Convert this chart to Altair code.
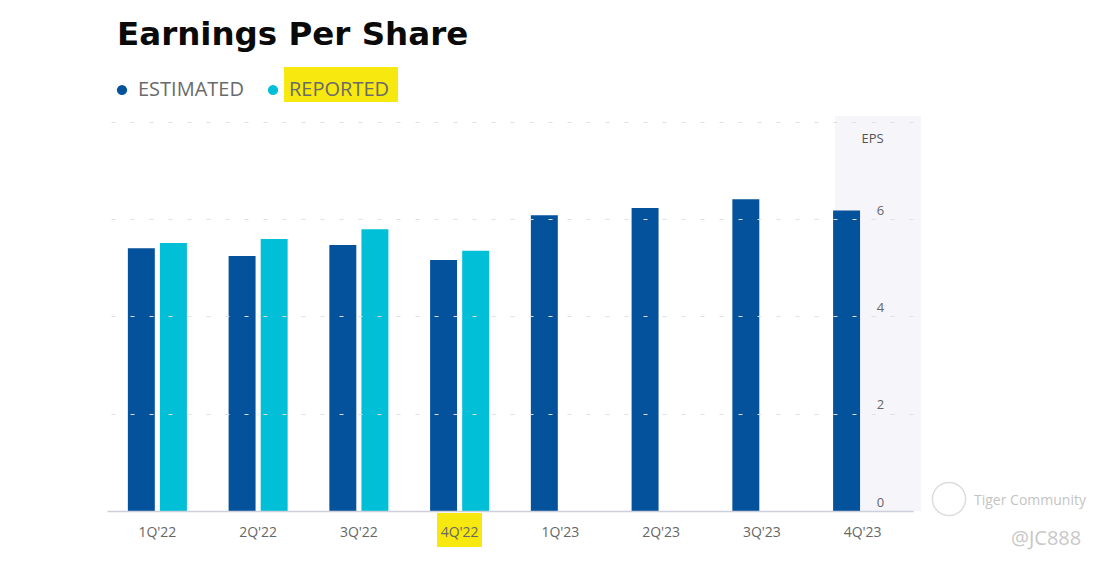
import altair as alt
import pandas as pd

quarters = ["1Q'22", "2Q'22", "3Q'22", "4Q'22", "1Q'23", "2Q'23", "3Q'23", "4Q'23"]
estimated = [5.40, 5.24, 5.47, 5.16, 6.08, 6.23, 6.41, 6.18]
reported = [5.51, 5.59, 5.79, 5.35, None, None, None, None]
series = ["ESTIMATED", "REPORTED"]
colors = ["#03529b", "#00bfd6"]
y_ticks = [0, 2, 4, 6, 8]

rows = []
for q, e, r in zip(quarters, estimated, reported):
    rows.append({"quarter": q, "series": "ESTIMATED", "eps": e})
    if r is not None:
        rows.append({"quarter": q, "series": "REPORTED", "eps": r})
df = pd.DataFrame(rows)

W, H = 806, 394

panel = alt.Chart(pd.DataFrame({"a": [0]})).mark_rect(color="#f5f5fa").encode(
    x=alt.value(728), x2=alt.value(814), y=alt.value(-1), y2=alt.value(H)
)
hl_legend = alt.Chart(pd.DataFrame({"a": [0]})).mark_rect(color="#f7e80f", clip=False).encode(
    x=alt.value(177), x2=alt.value(291), y=alt.value(-50), y2=alt.value(-15)
)
hl_axis = alt.Chart(pd.DataFrame({"a": [0]})).mark_rect(color="#f7e80f", clip=False).encode(
    x=alt.value(330), x2=alt.value(375), y=alt.value(H + 2), y2=alt.value(H + 36)
)

bars = alt.Chart(df).mark_bar().encode(
    x=alt.X("quarter:N", sort=quarters,
            scale=alt.Scale(paddingInner=0.414, paddingOuter=0.207),
            axis=alt.Axis(title=None, labelAngle=0, labelFontSize=14, labelColor="#666",
                          labelFont="Open Sans", labelPadding=14, ticks=False,
                          domainColor="#cdd0dc", domainWidth=1.5, zindex=1)),
    xOffset=alt.XOffset("series:N", sort=series,
                        scale=alt.Scale(paddingInner=0.16, paddingOuter=0)),
    y=alt.Y("eps:Q", scale=alt.Scale(domain=[0, 8.1], nice=False),
            axis=alt.Axis(orient="right", offset=-38, values=y_ticks,
                          labelExpr="datum.value == 8 ? '' : datum.label",
                          domain=False, ticks=False, tickSize=0, labelPadding=5,
                          labelAlign="center", labelBaseline="bottom", labelOffset=-2,
                          labelFontSize=13, labelColor="#666", labelFont="Open Sans",
                          grid=True, gridColor="#dfdfe5", gridDash=[4, 15], gridWidth=1.2,
                          title="EPS", titleAngle=0, titleX=-3, titleY=21,
                          titleAlign="center", titleBaseline="middle",
                          titleFontSize=13, titleFontWeight="normal", titleColor="#555",
                          titleFont="Open Sans", zindex=1)),
    color=alt.Color("series:N", scale=alt.Scale(domain=series, range=colors),
                    legend=alt.Legend(title=None, orient="none", legendX=5, legendY=-37,
                                      direction="horizontal", symbolType="circle",
                                      symbolSize=105, labelFontSize=20, labelColor="#6a6a6a",
                                      labelFont="Open Sans", labelOffset=6, columnPadding=19,
                                      symbolStrokeWidth=0)),
)

wm1 = alt.Chart(pd.DataFrame({"t": ["Tiger Community"]})).mark_text(
    align="left", baseline="middle", fontSize=14, color="#c4c4c4", font="Open Sans", clip=False
).encode(text="t:N", x=alt.value(867), y=alt.value(H - 10))
wm2 = alt.Chart(pd.DataFrame({"t": ["@JC888"]})).mark_text(
    align="left", baseline="middle", fontSize=20, color="#c8c8c8", font="Open Sans", clip=False
).encode(text="t:N", x=alt.value(904), y=alt.value(H + 28))
logo = alt.Chart(pd.DataFrame({"a": [0]})).mark_point(
    shape="circle", filled=False, size=1100, color="#cfcfcf", strokeWidth=1.5, clip=False
).encode(x=alt.value(842), y=alt.value(H - 12))

chart = alt.layer(panel, hl_legend, hl_axis, bars, wm1, wm2, logo).properties(
    width=W, height=H,
    padding={"left": 99, "top": 10, "right": 5, "bottom": 5},
    title=alt.Title("Earnings Per Share", anchor="start", frame="group", dx=10,
                    fontSize=32.5, font="DejaVu Sans", fontWeight="bold", color="#0a0a0a",
                    offset=16),
).configure_view(stroke=None)

chart.save("out.html", embed_options={"renderer": "svg", "actions": False})
